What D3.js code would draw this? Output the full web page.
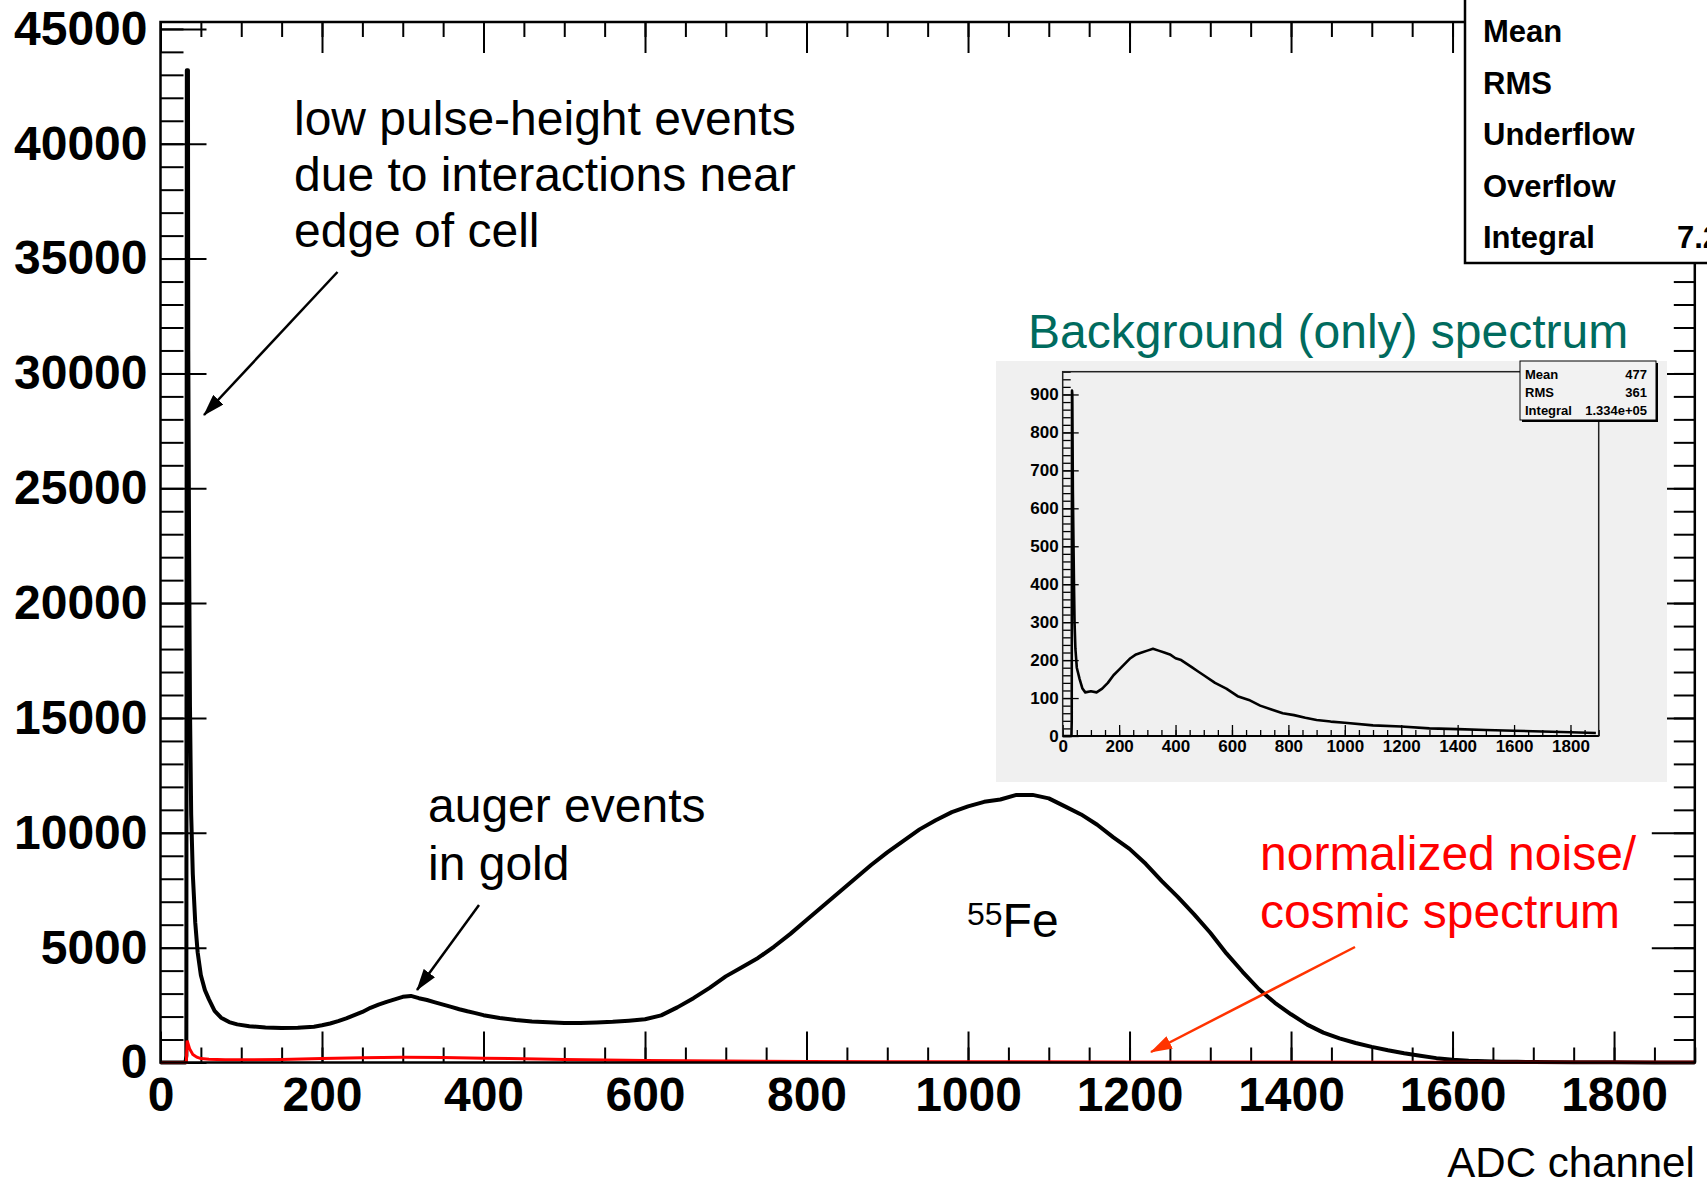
<!DOCTYPE html>
<html>
<head>
<meta charset="utf-8">
<script src="https://cdn.jsdelivr.net/npm/d3@7"></script>
<style>
  body { margin: 0; background: #fff; }
  text { font-family: "Liberation Sans", Arial, Helvetica, sans-serif; }
</style>
</head>
<body>
<div id="chart"></div>
<script>
  // main spectrum (black)
  var mainChannels = [0, 31, 32, 32.6, 34, 34.4, 35.4, 36.5, 38, 40, 43, 46, 50, 55, 60, 67, 75, 85, 95, 110,
    130, 150, 170, 190, 200, 210, 220, 230, 240, 250, 260, 270, 280, 290, 300, 310, 320, 330, 340, 350,
    360, 370, 380, 390, 400, 420, 440, 460, 480, 500, 520, 540, 560, 580, 600, 620, 640, 660, 680, 700,
    720, 740, 760, 780, 800, 820, 840, 860, 880, 900, 920, 940, 960, 980, 1000, 1020, 1040, 1060, 1080, 1100,
    1120, 1140, 1160, 1180, 1200, 1220, 1240, 1260, 1280, 1300, 1320, 1340, 1360, 1380, 1400, 1420, 1440, 1460, 1480, 1500,
    1520, 1540, 1560, 1580, 1600, 1620, 1640, 1660, 1680, 1700, 1750, 1800, 1850, 1900];
  var mainCounts = [0, 0, 300, 43200, 43200, 31000, 22500, 15500, 10800, 8200, 6100, 4800, 3800, 3150, 2750, 2250, 1950, 1760, 1660, 1580,
    1520, 1500, 1510, 1560, 1620, 1700, 1800, 1920, 2060, 2200, 2380, 2520, 2640, 2750, 2860, 2900, 2800, 2720, 2620, 2520,
    2420, 2320, 2230, 2150, 2060, 1940, 1850, 1790, 1750, 1720, 1720, 1740, 1770, 1820, 1880, 2050, 2400, 2800, 3250, 3750,
    4150, 4550, 5050, 5600, 6200, 6800, 7400, 8000, 8600, 9150, 9650, 10150, 10550, 10900, 11150, 11350, 11450, 11650, 11650, 11500,
    11150, 10800, 10350, 9800, 9300, 8650, 7900, 7200, 6450, 5650, 4750, 3950, 3200, 2600, 2100, 1650, 1300, 1050, 850, 680,
    530, 400, 290, 190, 120, 75, 50, 38, 28, 20, 12, 8, 5, 4];

  // normalized noise / cosmic spectrum (red)
  var noiseChannels = [0, 32, 33, 36, 40, 45, 50, 60, 80, 100, 150, 200, 250, 300, 350, 400, 450, 500, 550, 600,
    700, 800, 900, 1000, 1200, 1400, 1600, 1800, 1900];
  var noiseCounts = [0, 0, 950, 600, 350, 230, 170, 140, 120, 115, 130, 170, 210, 225, 215, 190, 165, 130, 105, 85,
    60, 45, 35, 30, 22, 17, 12, 10, 8];

  // background (only) spectrum, inset
  var bgChannels = [0, 31, 32, 33, 34, 36, 38, 40, 42, 45, 50, 60, 70, 80, 100, 120, 140, 160, 180, 200,
    220, 240, 260, 280, 300, 320, 340, 360, 380, 400, 420, 440, 460, 480, 500, 540, 580, 620, 660, 700,
    740, 780, 820, 860, 900, 950, 1000, 1100, 1200, 1300, 1400, 1500, 1600, 1700, 1800, 1890];
  var bgCounts = [0, 0, 40, 910, 900, 650, 520, 400, 300, 230, 180, 150, 125, 115, 118, 115, 125, 140, 160, 175,
    190, 205, 215, 220, 225, 230, 225, 220, 215, 205, 200, 190, 180, 170, 160, 140, 125, 105, 95, 80,
    70, 60, 55, 48, 42, 38, 35, 28, 25, 20, 18, 16, 14, 12, 10, 8];

  var xTicks = d3.range(0, 1801, 200);
  var yTicks = d3.range(0, 45001, 5000);
  var insetXTicks = d3.range(0, 1801, 200);
  var insetYTicks = d3.range(0, 901, 100);

  var statNames = ['Mean', 'RMS', 'Underflow', 'Overflow', 'Integral'];
  var insetStatNames = ['Mean', 'RMS', 'Integral'];
  var insetStatValues = ['477', '361', '1.334e+05'];

(function() {
  var W = 1707, H = 1182;
  var svg = d3.select('#chart').append('svg')
    .attr('width', W)
    .attr('height', H);

  svg.append('rect').attr('width', W).attr('height', H).attr('fill', '#fff');

  var defs = svg.append('defs');
  function arrowMarker(id, color) {
    defs.append('marker')
      .attr('id', id)
      .attr('viewBox', '0 0 22 14')
      .attr('refX', 21)
      .attr('refY', 7)
      .attr('markerUnits', 'userSpaceOnUse')
      .attr('markerWidth', 22)
      .attr('markerHeight', 14)
      .attr('orient', 'auto')
      .append('path')
      .attr('d', 'M0,0 L22,7 L0,14 Z')
      .attr('fill', color);
  }
  arrowMarker('arrowBlack', '#000');
  arrowMarker('arrowRed', '#ff3300');

  // ---------- main plot ----------
  var pLeft = 160.5, pRight = 1694.8, pTop = 22, pBottom = 1062.5;
  var x = d3.scaleLinear().domain([0, 1900]).range([pLeft, pRight]);
  var y = d3.scaleLinear().domain([0, 45300]).range([pBottom, pTop]);

  function styleAxis(g, fontSize) {
    g.select('.domain').remove();
    g.selectAll('.tick line').attr('stroke', '#000').attr('stroke-width', 2);
    g.selectAll('.tick text')
      .attr('fill', '#000')
      .style('font-size', fontSize + 'px')
      .style('font-weight', 'bold');
  }

  var gAxes = svg.append('g');

  // minor ticks
  gAxes.append('g').attr('transform', 'translate(0,' + pBottom + ')')
    .call(d3.axisBottom(x).tickValues(d3.range(0, 1901, 50)).tickSize(-15).tickFormat(''))
    .call(styleAxis, 10);
  gAxes.append('g').attr('transform', 'translate(0,' + pTop + ')')
    .call(d3.axisTop(x).tickValues(d3.range(0, 1901, 50)).tickSize(-15).tickFormat(''))
    .call(styleAxis, 10);
  gAxes.append('g').attr('transform', 'translate(' + pLeft + ',0)')
    .call(d3.axisLeft(y).tickValues(d3.range(0, 45301, 1000)).tickSize(-23).tickFormat(''))
    .call(styleAxis, 10);
  gAxes.append('g').attr('transform', 'translate(' + pRight + ',0)')
    .call(d3.axisRight(y).tickValues(d3.range(0, 45301, 1000)).tickSize(-21).tickFormat(''))
    .call(styleAxis, 10);

  // major ticks + labels
  gAxes.append('g').attr('transform', 'translate(0,' + pBottom + ')')
    .call(d3.axisBottom(x).tickValues(xTicks).tickSize(-31).tickPadding(14).tickFormat(d3.format('d')))
    .call(styleAxis, 48);
  gAxes.append('g').attr('transform', 'translate(0,' + pTop + ')')
    .call(d3.axisTop(x).tickValues(xTicks).tickSize(-31).tickFormat(''))
    .call(styleAxis, 10);
  gAxes.append('g').attr('transform', 'translate(' + pLeft + ',0)')
    .call(d3.axisLeft(y).tickValues(yTicks).tickSize(-46).tickPadding(13).tickFormat(d3.format('d')))
    .call(styleAxis, 48);
  gAxes.append('g').attr('transform', 'translate(' + pRight + ',0)')
    .call(d3.axisRight(y).tickValues(yTicks).tickSize(-43).tickFormat(''))
    .call(styleAxis, 10);

  var line = d3.line()
    .x(function(d) { return x(d[0]); })
    .y(function(d) { return y(d[1]); });

  svg.append('path')
    .datum(d3.zip(mainChannels, mainCounts))
    .attr('d', line)
    .attr('fill', 'none')
    .attr('stroke', '#000')
    .attr('stroke-width', 4)
    .attr('stroke-linejoin', 'round');

  svg.append('path')
    .datum(d3.zip(noiseChannels, noiseCounts))
    .attr('d', line)
    .attr('fill', 'none')
    .attr('stroke', '#ff0000')
    .attr('stroke-width', 3);

  // frame
  svg.append('rect')
    .attr('x', pLeft).attr('y', pTop)
    .attr('width', pRight - pLeft).attr('height', pBottom - pTop)
    .attr('fill', 'none')
    .attr('stroke', '#000')
    .attr('stroke-width', 2.5);

  // x title
  svg.append('text')
    .attr('x', pRight).attr('y', 1177)
    .attr('text-anchor', 'end')
    .style('font-size', '42px')
    .text('ADC channel');

  // ---------- annotations ----------
  function textBlock(lines, xPos, baselines, color) {
    lines.forEach(function(t, i) {
      svg.append('text')
        .attr('x', xPos).attr('y', baselines[i])
        .attr('fill', color)
        .style('font-size', '48px')
        .text(t);
    });
  }
  textBlock(['low pulse-height events', 'due to interactions near', 'edge of cell'], 294, [135, 191, 247], '#000');
  textBlock(['auger events', 'in gold'], 428, [822, 880], '#000');
  textBlock(['normalized noise/', 'cosmic spectrum'], 1260, [870, 928], '#ff0000');

  svg.append('line')
    .attr('x1', 337.5).attr('y1', 272).attr('x2', 204).attr('y2', 415)
    .attr('stroke', '#000').attr('stroke-width', 2.5)
    .attr('marker-end', 'url(#arrowBlack)');
  svg.append('line')
    .attr('x1', 479).attr('y1', 905).attr('x2', 417).attr('y2', 990)
    .attr('stroke', '#000').attr('stroke-width', 2.5)
    .attr('marker-end', 'url(#arrowBlack)');
  svg.append('line')
    .attr('x1', 1355).attr('y1', 947).attr('x2', 1151).attr('y2', 1052)
    .attr('stroke', '#ff3300').attr('stroke-width', 2.5)
    .attr('marker-end', 'url(#arrowRed)');

  var fe = svg.append('text').attr('x', 967).attr('y', 937).attr('fill', '#000');
  fe.append('tspan').attr('dy', -12).style('font-size', '32px').text('55');
  fe.append('tspan').attr('dy', 12).style('font-size', '48px').text('Fe');

  // ---------- inset ----------
  svg.append('rect')
    .attr('x', 996).attr('y', 361)
    .attr('width', 671).attr('height', 421)
    .attr('fill', '#f0f0f0');

  svg.append('text')
    .attr('x', 1028).attr('y', 348)
    .attr('fill', '#006b5e')
    .style('font-size', '48px')
    .text('Background (only) spectrum');

  var iLeft = 1062.7, iRight = 1598.7, iTop = 371.7, iBottom = 736;
  var xi = d3.scaleLinear().domain([0, 1900]).range([iLeft, iRight]);
  var yi = d3.scaleLinear().domain([0, 960]).range([iBottom, iTop]);

  var gInset = svg.append('g');
  gInset.append('g').attr('transform', 'translate(0,' + iBottom + ')')
    .call(d3.axisBottom(xi).tickValues(d3.range(0, 1901, 50)).tickSize(-6).tickFormat(''))
    .call(styleAxis, 10);
  gInset.append('g').attr('transform', 'translate(' + iLeft + ',0)')
    .call(d3.axisLeft(yi).tickValues(d3.range(0, 961, 20)).tickSize(-8).tickFormat(''))
    .call(styleAxis, 10);
  gInset.append('g').attr('transform', 'translate(0,' + iBottom + ')')
    .call(d3.axisBottom(xi).tickValues(insetXTicks).tickSize(-11).tickPadding(4).tickFormat(d3.format('d')))
    .call(styleAxis, 17);
  gInset.append('g').attr('transform', 'translate(' + iLeft + ',0)')
    .call(d3.axisLeft(yi).tickValues(insetYTicks).tickSize(-16).tickPadding(4).tickFormat(d3.format('d')))
    .call(styleAxis, 17);
  gInset.selectAll('.tick line').attr('stroke-width', 1.3);

  var lineInset = d3.line()
    .x(function(d) { return xi(d[0]); })
    .y(function(d) { return yi(d[1]); });

  gInset.append('path')
    .datum(d3.zip(bgChannels, bgCounts))
    .attr('d', lineInset)
    .attr('fill', 'none')
    .attr('stroke', '#000')
    .attr('stroke-width', 2.6)
    .attr('stroke-linejoin', 'round');

  gInset.append('rect')
    .attr('x', iLeft).attr('y', iTop)
    .attr('width', iRight - iLeft).attr('height', iBottom - iTop)
    .attr('fill', 'none')
    .attr('stroke', '#222')
    .attr('stroke-width', 1.5);
  gInset.append('line')
    .attr('x1', iLeft).attr('x2', iRight).attr('y1', iBottom).attr('y2', iBottom)
    .attr('stroke', '#000').attr('stroke-width', 2);

  // inset stats box
  gInset.append('rect')
    .attr('x', 1522).attr('y', 363).attr('width', 136).attr('height', 59)
    .attr('fill', '#000');
  gInset.append('rect')
    .attr('x', 1520).attr('y', 361).attr('width', 136).attr('height', 59)
    .attr('fill', '#f2f2f2').attr('stroke', '#000').attr('stroke-width', 1);
  insetStatNames.forEach(function(n, i) {
    var yy = 379 + i * 18;
    gInset.append('text').attr('x', 1525).attr('y', yy)
      .style('font-size', '13px').style('font-weight', 'bold').text(n);
    gInset.append('text').attr('x', 1647).attr('y', yy)
      .attr('text-anchor', 'end')
      .style('font-size', '13px').style('font-weight', 'bold').text(insetStatValues[i]);
  });

  // ---------- main stats box (cut off at the page edge) ----------
  svg.append('rect')
    .attr('x', 1465).attr('y', -10)
    .attr('width', 260).attr('height', 273)
    .attr('fill', '#fff')
    .attr('stroke', '#000')
    .attr('stroke-width', 2.5);
  statNames.forEach(function(n, i) {
    svg.append('text')
      .attr('x', 1483).attr('y', 42 + i * 51.6)
      .style('font-size', '31px').style('font-weight', 'bold')
      .text(n);
  });
  svg.append('text')
    .attr('x', 1677).attr('y', 42 + 4 * 51.6)
    .style('font-size', '31px').style('font-weight', 'bold')
    .text('7.2');
})();
</script>
</body>
</html>
